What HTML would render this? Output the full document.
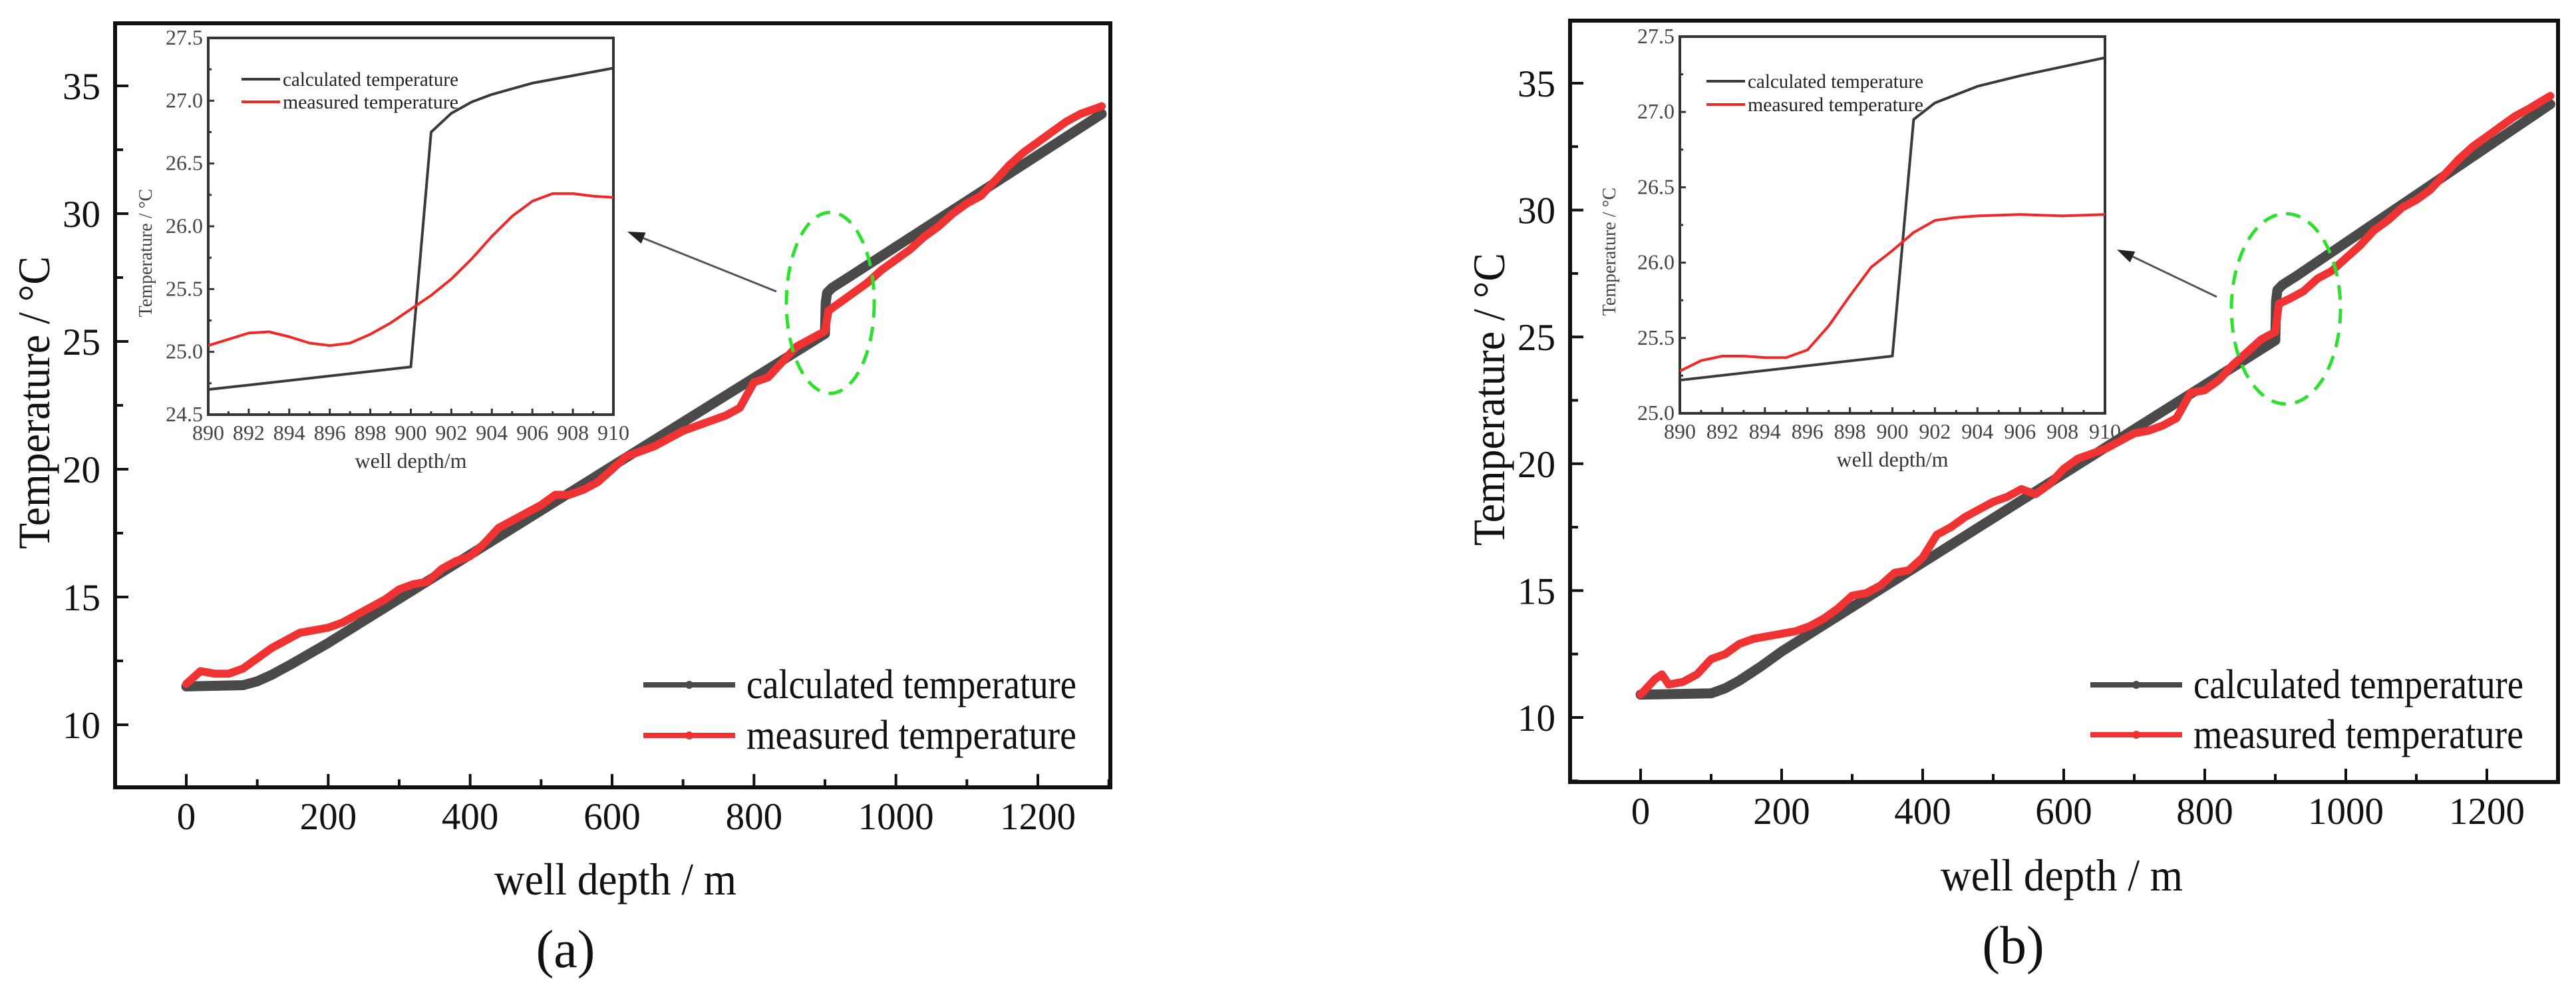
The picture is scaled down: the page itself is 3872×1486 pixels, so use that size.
<!DOCTYPE html>
<html><head><meta charset="utf-8"><style>
html,body{margin:0;padding:0;background:#fff;}
svg{display:block;font-family:"Liberation Serif",serif;}
</style></head><body>
<svg id="fig" width="3872" height="1486" viewBox="0 0 3872 1486"></svg>
<script>
// ---- Panel (a) data ----
const calcDepthA = [0, 80, 100, 120, 150, 200, 900, 901, 903, 910, 930, 1290];
const calcTempA  = [11.5, 11.55, 11.7, 11.95, 12.4, 13.2, 25.3, 26.5, 26.9, 27.1, 27.45, 33.9];
const measDepthA = [0,20,40,60,80,100,120,140,160,180,200,220,240,260,280,300,320,340,360,380,400,420,440,460,480,500,520,540,560,580,600,620,640,660,680,700,720,740,760,780,800,820,840,860,880,900,905,920,940,960,980,1000,1020,1040,1060,1080,1100,1120,1140,1160,1180,1200,1220,1240,1260,1290];
const measTempA  = [11.6,12.1,12.0,12.0,12.2,12.6,13.0,13.3,13.6,13.7,13.8,14.0,14.3,14.6,14.9,15.3,15.5,15.6,16.1,16.4,16.6,17.1,17.7,18.0,18.3,18.6,19.0,19.0,19.2,19.5,20.0,20.5,20.7,20.9,21.2,21.5,21.7,21.9,22.1,22.4,23.4,23.6,24.2,24.8,25.1,25.4,26.2,26.5,26.9,27.3,27.8,28.2,28.6,29.1,29.5,30.0,30.4,30.7,31.3,31.9,32.4,32.8,33.2,33.6,33.9,34.2];
const insetCalcDepthA = [890, 900, 901, 902, 903, 904, 906, 908, 910];
const insetCalcTempA  = [24.7, 24.88, 26.75, 26.9, 26.99, 27.05, 27.14, 27.2, 27.26];
const insetMeasDepthA = [890,891,892,893,894,895,896,897,898,899,900,901,902,903,904,905,906,907,908,909,910];
const insetMeasTempA  = [25.05,25.1,25.15,25.16,25.12,25.07,25.05,25.07,25.14,25.23,25.34,25.45,25.58,25.74,25.92,26.08,26.2,26.26,26.26,26.24,26.23];
// ---- Panel (b) data ----
const calcDepthB = [0, 100, 120, 140, 170, 200, 900, 901, 903, 910, 930, 1290];
const calcTempB  = [10.9, 10.95, 11.15, 11.45, 12.0, 12.6, 24.86, 26.4, 26.85, 27.05, 27.4, 34.17];
const measDepthB = [0,20,30,40,60,80,100,120,140,160,180,200,220,240,260,280,300,320,340,360,380,400,420,440,460,480,500,520,540,560,580,600,620,640,660,680,700,720,740,760,780,800,820,840,860,880,900,905,920,940,960,980,1000,1020,1040,1060,1080,1100,1120,1140,1160,1180,1200,1220,1240,1260,1290];
const measTempB  = [10.9,11.5,11.7,11.3,11.4,11.7,12.3,12.5,12.9,13.1,13.2,13.3,13.4,13.6,13.9,14.3,14.8,14.9,15.2,15.7,15.8,16.3,17.2,17.5,17.9,18.2,18.5,18.7,19.0,18.8,19.2,19.8,20.2,20.4,20.6,20.9,21.2,21.3,21.5,21.8,22.8,22.9,23.3,23.9,24.4,24.9,25.2,26.3,26.5,26.8,27.3,27.6,28.1,28.6,29.2,29.6,30.1,30.4,30.8,31.4,32.0,32.5,32.9,33.3,33.7,34.0,34.5];
const insetCalcDepthB = [890, 900, 901, 902, 904, 906, 908, 910];
const insetCalcTempB  = [25.22, 25.38, 26.95, 27.06, 27.17, 27.24, 27.3, 27.36];
const insetMeasDepthB = [890,891,892,893,894,895,896,897,898,899,900,901,902,903,904,906,908,910];
const insetMeasTempB  = [25.28,25.35,25.38,25.38,25.37,25.37,25.42,25.58,25.78,25.97,26.08,26.2,26.28,26.3,26.31,26.32,26.31,26.32];
// ---- ticks ----
const mainXTicks = [0,200,400,600,800,1000,1200];
const mainYTicks = [10,15,20,25,30,35];
const insetXTicks = [890,892,894,896,898,900,902,904,906,908,910];
const insetYTicksA = ["24.5","25.0","25.5","26.0","26.5","27.0","27.5"];
const insetYTicksB = ["25.0","25.5","26.0","26.5","27.0","27.5"];

const NS="http://www.w3.org/2000/svg";
const svg=document.getElementById('fig');
function mk(tag,attrs,parent){const e=document.createElementNS(NS,tag);for(const k in attrs)e.setAttribute(k,attrs[k]);(parent||svg).appendChild(e);return e;}
function txt(s,attrs,parent){const e=mk('text',attrs,parent);e.textContent=s;return e;}
function pts(xs,ys,sx,sy){return xs.map((x,i)=>sx(x).toFixed(1)+','+sy(ys[i]).toFixed(1)).join(' ');}

function panel(P){
  const g=mk('g',{});
  
  
  const sx=d=>P.x0+(d-0)*(P.x1200-P.x0)/1200;
  const sy=t=>P.y10+(t-10)*(P.y35-P.y10)/25;
  const fr=mk('rect',{x:P.fl,y:P.ft,width:P.fr-P.fl,height:P.fb-P.ft,fill:'none',stroke:'#111','stroke-width':6},g);
  
  
  for(let d=0; d<=1300; d+=100){
    const X=sx(d);if(X>P.fr)break;
    mk('line',{x1:X,x2:X,y1:P.fb,y2:P.fb-(d%200===0?20:12),stroke:'#111','stroke-width':4},g);
  }
  mainXTicks.forEach(d=>{
    const t=txt(String(d),{x:sx(d),y:P.fb+63,'font-size':57,'text-anchor':'middle',fill:'#111'},g);
    
    
  });
  for(let v=7.5; v<=37.5; v+=2.5){
    const Y=sy(v); if(Y<P.ft||Y>P.fb)continue;
    mk('line',{x1:P.fl,x2:P.fl+(v%5===0?20:12),y1:Y,y2:Y,stroke:'#111','stroke-width':4},g);
  }
  mainYTicks.forEach(v=>{
    const t=txt(String(v),{x:P.fl-22,y:sy(v)+20,'font-size':57,'text-anchor':'end',fill:'#111'},g);
    
    
  });
  const xt=txt('well depth / m',{x:P.xtx,y:P.xty,'font-size':68,'text-anchor':'middle',fill:'#111',textLength:364,lengthAdjust:'spacingAndGlyphs'},g);
  
  
  const yt=txt('Temperature / °C',{x:0,y:0,'font-size':68,'text-anchor':'middle',fill:'#111',textLength:440,lengthAdjust:'spacingAndGlyphs',transform:`translate(${P.fl-99},${P.yty}) rotate(-90)`},g);
  
  
  const pl=txt(P.label,{x:P.ltx,y:P.lty,'font-size':80,'text-anchor':'middle',fill:'#111'},g);
  
  
  const cl=mk('polyline',{points:pts(P.cd,P.ct,sx,sy),fill:'none',stroke:'#4a4a4a','stroke-width':15,'stroke-linejoin':'round','stroke-linecap':'round'},g);
  
  
  const ml=mk('polyline',{points:pts(P.md,P.mt,sx,sy),fill:'none',stroke:'#f03232','stroke-width':12,'stroke-linejoin':'round','stroke-linecap':'round'},g);
  
  
  const lg=mk('g',{},g);
  
  
  [['calculated  temperature','#4a4a4a',P.leg1],['measured  temperature','#f03232',P.leg2]].forEach(([s,c,y])=>{
    mk('line',{x1:P.legx,x2:P.legx+138,y1:y,y2:y,stroke:c,'stroke-width':8},lg);
    mk('circle',{cx:P.legx+69,cy:y,r:6,fill:c},lg);
    const t=txt(s,{x:P.legx+155,y:y+20,'font-size':62,fill:'#111','xml:space':'preserve',textLength:P.legw,lengthAdjust:'spacingAndGlyphs'},lg);
    
    
  });
  const el=mk('ellipse',{cx:P.ex,cy:P.ey,rx:P.erx,ry:P.ery,fill:'none',stroke:'#2ee02e','stroke-width':5,'stroke-dasharray':'22 14'},g);
  
  
  const ar=mk('line',{x1:P.ax1,y1:P.ay1,x2:P.ax2+12,y2:P.ay2+5,stroke:'#555','stroke-width':3},g);
  
  
  const ang=Math.atan2(P.ay1-P.ay2,P.ax1-P.ax2);
  const hx=P.ax2,hy=P.ay2,L=26,W=9;
  const bx=hx+L*Math.cos(ang),by=hy+L*Math.sin(ang);
  mk('polygon',{points:`${hx},${hy} ${bx-W*Math.sin(ang)},${by+W*Math.cos(ang)} ${bx+W*Math.sin(ang)},${by-W*Math.cos(ang)}`,fill:'#222'},g);
  const I=P.inset;
  const ig=mk('g',{},g);
  
  
  const isx=d=>I.l+(d-890)*(I.r-I.l)/20;
  const isy=t=>I.b-(t-I.ymin)*(I.b-I.t)/(I.ymax-I.ymin);
  mk('rect',{x:I.l,y:I.t,width:I.r-I.l,height:I.b-I.t,fill:'#fff',stroke:'#333','stroke-width':4},ig);
  for(let d=890; d<=910; d+=1){mk('line',{x1:isx(d),x2:isx(d),y1:I.b,y2:I.b-(d%2===0?9:5),stroke:'#333','stroke-width':3},ig);}
  insetXTicks.forEach(d=>{
    const t=txt(String(d),{x:isx(d),y:I.b+38,'font-size':32,'text-anchor':'middle',fill:'#444'},ig);
    
    
  });
  for(let v=I.ymin; v<=I.ymax+0.01; v+=0.25){mk('line',{x1:I.l,x2:I.l+(Math.abs(v*2-Math.round(v*2))<0.01?9:5),y1:isy(v),y2:isy(v),stroke:'#333','stroke-width':3},ig);}
  I.yt.forEach(s=>{
    const t=txt(s,{x:I.l-8,y:isy(parseFloat(s))+10,'font-size':32,'text-anchor':'end',fill:'#444'},ig);
    
    
  });
  const ixt=txt('well depth/m',{x:(I.l+I.r)/2,y:I.b+80,'font-size':32,'text-anchor':'middle',fill:'#333'},ig);
  
  
  const iyt=txt('Temperature / °C',{x:0,y:0,'font-size':28,'text-anchor':'middle',fill:'#444',transform:`translate(${I.ytx},${(I.t+I.b)/2+40}) rotate(-90)`},ig);
  
  
  const icl=mk('polyline',{points:pts(I.cd,I.ct,isx,isy),fill:'none',stroke:'#3a3a3a','stroke-width':4,'stroke-linejoin':'round'},ig);
  
  
  const iml=mk('polyline',{points:pts(I.md,I.mt,isx,isy),fill:'none',stroke:'#f02828','stroke-width':4,'stroke-linejoin':'round'},ig);
  
  
  [['calculated temperature','#3a3a3a',I.lg1],['measured temperature','#f02828',I.lg2]].forEach(([s,c,y])=>{
    mk('line',{x1:I.lgx,x2:I.lgx+58,y1:y,y2:y,stroke:c,'stroke-width':4},ig);
    const t=txt(s,{x:I.lgx+62,y:y+10,'font-size':30,fill:'#222',textLength:264,lengthAdjust:'spacingAndGlyphs'},ig);
    
    
  });
}

panel({name:'panel-a',label:'(a)',fl:173,fr:1669,ft:35,fb:1183,x0:280,x1200:1560,y10:1089,y35:129,
  xtx:925,xty:1344,yty:605,ltx:850,lty:1453,
  cd:calcDepthA,ct:calcTempA,md:measDepthA,mt:measTempA,
  legx:967,leg1:1029,leg2:1105,legw:496,
  ex:1248,ey:455,erx:66,ery:136,ax1:1167,ay1:438,ax2:943,ay2:348,
  inset:{l:313,r:922,t:57,b:623,ymin:24.5,ymax:27.5,yt:insetYTicksA,ytx:228,
    cd:insetCalcDepthA,ct:insetCalcTempA,md:insetMeasDepthA,mt:insetMeasTempA,lgx:363,lg1:119,lg2:153}});
panel({name:'panel-b',label:'(b)',fl:2360,fr:3845,ft:31,fb:1175,x0:2466,x1200:3738,y10:1078,y35:125,
  xtx:3099,xty:1338,yty:600,ltx:3026,lty:1447,
  cd:calcDepthB,ct:calcTempB,md:measDepthB,mt:measTempB,
  legx:3142,leg1:1029,leg2:1104,legw:496,
  ex:3436,ey:464,erx:82,ery:143,ax1:3332,ay1:446,ax2:3182,ay2:375,
  inset:{l:2525,r:3164,t:55,b:621,ymin:25.0,ymax:27.5,yt:insetYTicksB,ytx:2428,
    cd:insetCalcDepthB,ct:insetCalcTempB,md:insetMeasDepthB,mt:insetMeasTempB,lgx:2565,lg1:122,lg2:157}});
</script>
</body></html>
